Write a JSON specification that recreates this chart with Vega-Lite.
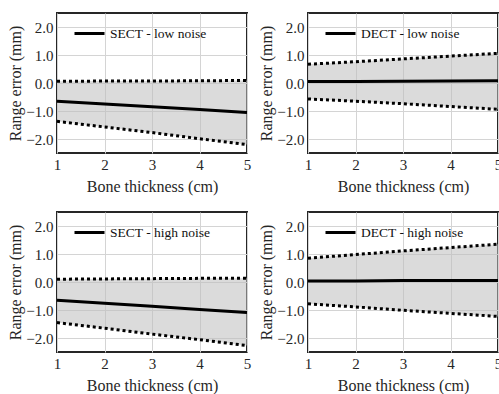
{
  "$schema": "https://vega.github.io/schema/vega-lite/v6.json",
  "padding": {"left": 6, "top": 12, "right": 0, "bottom": 0},
  "config": {
    "font": "Liberation Serif",
    "view": {"stroke": "#262626", "strokeWidth": 2},
    "axis": {
      "labelFont": "Liberation Serif", "labelFontSize": 15, "labelColor": "#262626", "labelOverlap": false,
      "titleFont": "Liberation Serif", "titleFontSize": 16, "titleFontWeight": "normal", "titleColor": "#262626",
      "gridColor": "#d4d4d4", "gridWidth": 1, "domain": false, "ticks": false
    },
    "legend": {
      "labelFont": "Liberation Serif", "labelFontSize": 13.5, "labelColor": "#111111",
      "symbolType": "stroke", "symbolStrokeWidth": 3, "symbolSize": 900, "symbolStrokeColor": "black",
      "orient": "none", "legendX": 16, "legendY": 4, "padding": 0, "labelOffset": 4, "title": null
    },
    "concat": {"spacing": {"row": 16, "column": 3}}
  },
  "data": {"values": [
    {"panel": "SECT - low noise", "x": 1, "mean": -0.65, "hi": 0.06, "lo": -1.37},
    {"panel": "SECT - low noise", "x": 2, "mean": -0.75, "hi": 0.07, "lo": -1.57},
    {"panel": "SECT - low noise", "x": 3, "mean": -0.85, "hi": 0.07, "lo": -1.77},
    {"panel": "SECT - low noise", "x": 4, "mean": -0.95, "hi": 0.08, "lo": -1.99},
    {"panel": "SECT - low noise", "x": 5, "mean": -1.05, "hi": 0.09, "lo": -2.20},
    {"panel": "DECT - low noise", "x": 1, "mean": 0.05, "hi": 0.67, "lo": -0.57},
    {"panel": "DECT - low noise", "x": 2, "mean": 0.05, "hi": 0.76, "lo": -0.65},
    {"panel": "DECT - low noise", "x": 3, "mean": 0.06, "hi": 0.86, "lo": -0.74},
    {"panel": "DECT - low noise", "x": 4, "mean": 0.07, "hi": 0.96, "lo": -0.84},
    {"panel": "DECT - low noise", "x": 5, "mean": 0.08, "hi": 1.06, "lo": -0.94},
    {"panel": "SECT - high noise", "x": 1, "mean": -0.65, "hi": 0.10, "lo": -1.45},
    {"panel": "SECT - high noise", "x": 2, "mean": -0.76, "hi": 0.11, "lo": -1.65},
    {"panel": "SECT - high noise", "x": 3, "mean": -0.87, "hi": 0.12, "lo": -1.86},
    {"panel": "SECT - high noise", "x": 4, "mean": -0.98, "hi": 0.13, "lo": -2.06},
    {"panel": "SECT - high noise", "x": 5, "mean": -1.09, "hi": 0.13, "lo": -2.27},
    {"panel": "DECT - high noise", "x": 1, "mean": 0.04, "hi": 0.85, "lo": -0.78},
    {"panel": "DECT - high noise", "x": 2, "mean": 0.04, "hi": 0.98, "lo": -0.89},
    {"panel": "DECT - high noise", "x": 3, "mean": 0.05, "hi": 1.11, "lo": -1.01},
    {"panel": "DECT - high noise", "x": 4, "mean": 0.05, "hi": 1.23, "lo": -1.12},
    {"panel": "DECT - high noise", "x": 5, "mean": 0.05, "hi": 1.35, "lo": -1.23}
  ]},
  "columns": 2,
  "resolve": {"scale": {"color": "independent"}, "legend": {"color": "independent"}},
  "concat": [
    {
      "width": 190, "height": 140,
      "transform": [{"filter": "datum.panel === 'SECT - low noise'"}],
      "encoding": {
        "x": {"field": "x", "type": "quantitative", "scale": {"domain": [1, 5], "nice": false}, "axis": {"values": [1, 2, 3, 4, 5], "labelFlush": false, "title": "Bone thickness (cm)", "labelPadding": 4, "titlePadding": 6}}
      },
      "layer": [
        {"mark": {"type": "area", "color": "#bdbdbd", "opacity": 0.55}, "encoding": {"y": {"field": "lo", "type": "quantitative", "scale": {"domain": [-2.5, 2.5], "nice": false}, "axis": {"values": [-2, -1, 0, 1, 2], "format": ".1f", "title": "Range error (mm)", "labelPadding": 4, "titlePadding": 2}}, "y2": {"field": "hi"}}},
        {"mark": {"type": "line", "color": "black", "strokeWidth": 3, "strokeDash": [3, 3], "strokeCap": "butt"}, "encoding": {"y": {"field": "hi", "type": "quantitative", "axis": {"values": [-2, -1, 0, 1, 2], "format": ".1f", "title": "Range error (mm)", "labelPadding": 4, "titlePadding": 2}}}},
        {"mark": {"type": "line", "color": "black", "strokeWidth": 3, "strokeDash": [3, 3], "strokeCap": "butt"}, "encoding": {"y": {"field": "lo", "type": "quantitative", "axis": {"values": [-2, -1, 0, 1, 2], "format": ".1f", "title": "Range error (mm)", "labelPadding": 4, "titlePadding": 2}}}},
        {"mark": {"type": "line", "strokeWidth": 3}, "encoding": {"y": {"field": "mean", "type": "quantitative", "axis": {"values": [-2, -1, 0, 1, 2], "format": ".1f", "title": "Range error (mm)", "labelPadding": 4, "titlePadding": 2}}, "color": {"field": "panel", "type": "nominal", "scale": {"range": ["black"]}}}}
      ]
    },
    {
      "width": 190, "height": 140,
      "transform": [{"filter": "datum.panel === 'DECT - low noise'"}],
      "encoding": {
        "x": {"field": "x", "type": "quantitative", "scale": {"domain": [1, 5], "nice": false}, "axis": {"values": [1, 2, 3, 4, 5], "labelFlush": false, "title": "Bone thickness (cm)", "labelPadding": 4, "titlePadding": 6}}
      },
      "layer": [
        {"mark": {"type": "area", "color": "#bdbdbd", "opacity": 0.55}, "encoding": {"y": {"field": "lo", "type": "quantitative", "scale": {"domain": [-2.5, 2.5], "nice": false}, "axis": {"values": [-2, -1, 0, 1, 2], "format": ".1f", "title": "Range error (mm)", "labelPadding": 4, "titlePadding": 2}}, "y2": {"field": "hi"}}},
        {"mark": {"type": "line", "color": "black", "strokeWidth": 3, "strokeDash": [3, 3], "strokeCap": "butt"}, "encoding": {"y": {"field": "hi", "type": "quantitative", "axis": {"values": [-2, -1, 0, 1, 2], "format": ".1f", "title": "Range error (mm)", "labelPadding": 4, "titlePadding": 2}}}},
        {"mark": {"type": "line", "color": "black", "strokeWidth": 3, "strokeDash": [3, 3], "strokeCap": "butt"}, "encoding": {"y": {"field": "lo", "type": "quantitative", "axis": {"values": [-2, -1, 0, 1, 2], "format": ".1f", "title": "Range error (mm)", "labelPadding": 4, "titlePadding": 2}}}},
        {"mark": {"type": "line", "strokeWidth": 3}, "encoding": {"y": {"field": "mean", "type": "quantitative", "axis": {"values": [-2, -1, 0, 1, 2], "format": ".1f", "title": "Range error (mm)", "labelPadding": 4, "titlePadding": 2}}, "color": {"field": "panel", "type": "nominal", "scale": {"range": ["black"]}}}}
      ]
    },
    {
      "width": 190, "height": 140,
      "transform": [{"filter": "datum.panel === 'SECT - high noise'"}],
      "encoding": {
        "x": {"field": "x", "type": "quantitative", "scale": {"domain": [1, 5], "nice": false}, "axis": {"values": [1, 2, 3, 4, 5], "labelFlush": false, "title": "Bone thickness (cm)", "labelPadding": 4, "titlePadding": 6}}
      },
      "layer": [
        {"mark": {"type": "area", "color": "#bdbdbd", "opacity": 0.55}, "encoding": {"y": {"field": "lo", "type": "quantitative", "scale": {"domain": [-2.5, 2.5], "nice": false}, "axis": {"values": [-2, -1, 0, 1, 2], "format": ".1f", "title": "Range error (mm)", "labelPadding": 4, "titlePadding": 2}}, "y2": {"field": "hi"}}},
        {"mark": {"type": "line", "color": "black", "strokeWidth": 3, "strokeDash": [3, 3], "strokeCap": "butt"}, "encoding": {"y": {"field": "hi", "type": "quantitative", "axis": {"values": [-2, -1, 0, 1, 2], "format": ".1f", "title": "Range error (mm)", "labelPadding": 4, "titlePadding": 2}}}},
        {"mark": {"type": "line", "color": "black", "strokeWidth": 3, "strokeDash": [3, 3], "strokeCap": "butt"}, "encoding": {"y": {"field": "lo", "type": "quantitative", "axis": {"values": [-2, -1, 0, 1, 2], "format": ".1f", "title": "Range error (mm)", "labelPadding": 4, "titlePadding": 2}}}},
        {"mark": {"type": "line", "strokeWidth": 3}, "encoding": {"y": {"field": "mean", "type": "quantitative", "axis": {"values": [-2, -1, 0, 1, 2], "format": ".1f", "title": "Range error (mm)", "labelPadding": 4, "titlePadding": 2}}, "color": {"field": "panel", "type": "nominal", "scale": {"range": ["black"]}}}}
      ]
    },
    {
      "width": 190, "height": 140,
      "transform": [{"filter": "datum.panel === 'DECT - high noise'"}],
      "encoding": {
        "x": {"field": "x", "type": "quantitative", "scale": {"domain": [1, 5], "nice": false}, "axis": {"values": [1, 2, 3, 4, 5], "labelFlush": false, "title": "Bone thickness (cm)", "labelPadding": 4, "titlePadding": 6}}
      },
      "layer": [
        {"mark": {"type": "area", "color": "#bdbdbd", "opacity": 0.55}, "encoding": {"y": {"field": "lo", "type": "quantitative", "scale": {"domain": [-2.5, 2.5], "nice": false}, "axis": {"values": [-2, -1, 0, 1, 2], "format": ".1f", "title": "Range error (mm)", "labelPadding": 4, "titlePadding": 2}}, "y2": {"field": "hi"}}},
        {"mark": {"type": "line", "color": "black", "strokeWidth": 3, "strokeDash": [3, 3], "strokeCap": "butt"}, "encoding": {"y": {"field": "hi", "type": "quantitative", "axis": {"values": [-2, -1, 0, 1, 2], "format": ".1f", "title": "Range error (mm)", "labelPadding": 4, "titlePadding": 2}}}},
        {"mark": {"type": "line", "color": "black", "strokeWidth": 3, "strokeDash": [3, 3], "strokeCap": "butt"}, "encoding": {"y": {"field": "lo", "type": "quantitative", "axis": {"values": [-2, -1, 0, 1, 2], "format": ".1f", "title": "Range error (mm)", "labelPadding": 4, "titlePadding": 2}}}},
        {"mark": {"type": "line", "strokeWidth": 3}, "encoding": {"y": {"field": "mean", "type": "quantitative", "axis": {"values": [-2, -1, 0, 1, 2], "format": ".1f", "title": "Range error (mm)", "labelPadding": 4, "titlePadding": 2}}, "color": {"field": "panel", "type": "nominal", "scale": {"range": ["black"]}}}}
      ]
    }
  ]
}
